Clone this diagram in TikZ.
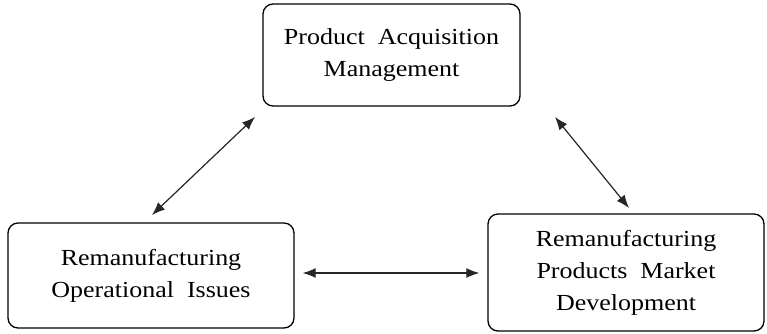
\documentclass[tikz,border=0pt]{standalone}
\usepackage{fontspec}
\setmainfont[FakeStretch=1.13]{Liberation Serif}
\usetikzlibrary{arrows.meta}
\begin{document}
\begin{tikzpicture}[x=1pt,y=-1pt,
  box/.style={draw=black, line width=1.3pt, rounded corners=10pt, align=center,
    inner sep=0pt, font=\fontsize{23}{32}\selectfont},
  link/.style={line width=1.2pt, draw=black!85, {Latex[length=13pt,width=10pt]}-{Latex[length=13pt,width=10pt]}}]
\useasboundingbox (0,0) rectangle (767,334);
\node[box, minimum width=257pt, minimum height=102pt] (pam) at (391.5,55)
  {Product\ \ Acquisition\\Management};
\node[box, minimum width=286pt, minimum height=105pt] (roi) at (151,275.5)
  {Remanufacturing\\Operational\ \ Issues};
\node[box, minimum width=276pt, minimum height=117pt] (rpm) at (626,272.5)
  {Remanufacturing\\Products\ \ Market\\Development};
\coordinate (l1) at (152,215);
\coordinate (l2) at (255,117);
\coordinate (r1) at (555,117);
\coordinate (r2) at (629,208);
\draw[link] (l1) -- (l2);
\draw[link] (r1) -- (r2);
\draw[link] ([xshift=8pt]roi.east |- 0,273) -- ([xshift=-8pt]rpm.west |- 0,273);
\end{tikzpicture}
\end{document}
